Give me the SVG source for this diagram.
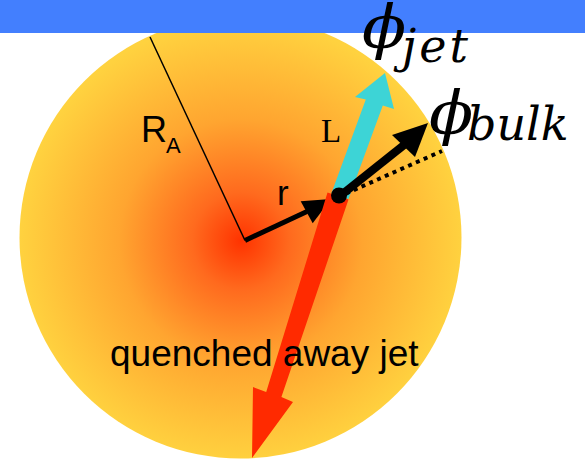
<svg xmlns="http://www.w3.org/2000/svg" width="585" height="459" viewBox="0 0 585 459">
<defs>
<radialGradient id="medGrad" cx="241" cy="241" r="221" gradientUnits="userSpaceOnUse">
<stop offset="0" stop-color="#FF3300"/>
<stop offset="0.22" stop-color="#FF6A1E"/>
<stop offset="0.55" stop-color="#FFA530"/>
<stop offset="1" stop-color="#FFD23F"/>
</radialGradient>
<style>
.sans{font-family:"Liberation Sans",Arial,sans-serif;fill:#000}
.serif{font-family:"Liberation Serif","Times New Roman",serif;fill:#000}
.phi{font-family:"DejaVu Serif",serif;font-style:italic;fill:#000;font-size:50px}
.mi{font-family:"DejaVu Serif",serif;font-style:italic;fill:#000;font-size:46px}
.thin{stroke:#000;stroke-width:1.5;fill:none}
</style>
</defs>
<g id="medium">
<circle cx="240.5" cy="237.5" r="221" fill="url(#medGrad)"/>
</g>
<g id="topband">
<rect x="0" y="0" width="585" height="33" fill="#437FFE"/>
</g>
<g id="connectors">
<line id="radius" class="thin" x1="150" y1="37" x2="245" y2="240.5"/>
<g id="r-arrow">
<line x1="245" y1="240.5" x2="307" y2="211.5" stroke="#000" stroke-width="5"/>
<polygon points="300.7,201.3 331,199 312.7,223.3" fill="#000"/>
</g>
<g id="quenched-arrow">
<polygon points="327.5,192.6 266.2,392 253,387 252,458 293,402 281.4,397 348.5,199.4" fill="#FF2A00"/>
</g>
<g id="jet-arrow">
<polygon points="331.5,192.9 365.8,99.4 355,97 385,73 394,109 382.8,105.6 348.5,199.1" fill="#3DD4D6"/>
</g>
<line id="dotted" x1="346" y1="193.5" x2="442" y2="151" stroke="#000" stroke-width="4" stroke-dasharray="4 4.5"/>
<g id="bulk-arrow">
<line x1="340" y1="196" x2="404" y2="145" stroke="#000" stroke-width="8"/>
<polygon points="392,135 428,123 415,157" fill="#000"/>
</g>
<circle id="vertex" cx="339" cy="195.5" r="8" fill="#000"/>
</g>
<g id="label-RA">
<text class="sans" x="141" y="142" font-size="36">R</text>
<text class="sans" x="166" y="153" font-size="22">A</text>
</g>
<g id="label-L">
<text class="serif" x="321" y="142" font-size="33">L</text>
</g>
<g id="label-r">
<text class="sans" x="277" y="205" font-size="35">r</text>
</g>
<g id="label-quenched">
<text class="sans" x="110" y="366" font-size="37">quenched away jet</text>
</g>
<g id="label-phijet">
<text class="phi" transform="translate(362,48) scale(1.3,1.18)">ϕ</text>
<text class="mi" x="402" y="62" letter-spacing="3">jet</text>
</g>
<g id="label-phibulk">
<text class="phi" transform="translate(429,134) scale(1.3,1.18)">ϕ</text>
<text class="mi" x="467" y="140">bulk</text>
</g>
</svg>
